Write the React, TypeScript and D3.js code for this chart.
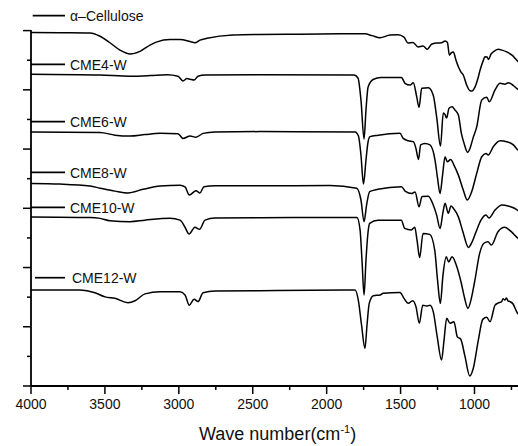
import React from "react";
import * as d3 from "d3";

// ---- data (wavenumber cm-1, offset transmittance a.u.) ----
const seriesNames = ["α–Cellulose", "CME4-W", "CME6-W", "CME8-W", "CME10-W", "CME12-W"];

const cellulose: [number, number][] = [
  [4000, 11.94], [3804, 11.93], [3601, 11.92], [3533, 11.81], [3466, 11.59], [3398, 11.34],
  [3330, 11.21], [3263, 11.30], [3195, 11.51], [3148, 11.62], [3060, 11.70], [2992, 11.70],
  [2924, 11.63], [2891, 11.59], [2857, 11.68], [2809, 11.74], [2634, 11.85], [2451, 11.87],
  [2180, 11.88], [1910, 11.89], [1741, 11.89], [1693, 11.83], [1639, 11.76], [1571, 11.85],
  [1517, 11.86], [1477, 11.78], [1450, 11.58], [1416, 11.60], [1382, 11.45], [1348, 11.48],
  [1318, 11.37], [1291, 11.54], [1254, 11.58], [1223, 11.59], [1199, 11.65], [1183, 11.60],
  [1170, 11.17], [1159, 11.24], [1143, 11.28], [1125, 11.00], [1109, 10.78], [1091, 10.60],
  [1076, 10.50], [1053, 10.16], [1030, 9.97], [1017, 9.96], [997, 10.09], [976, 10.40],
  [962, 10.67], [942, 10.97], [929, 11.12], [915, 11.11], [905, 11.02], [888, 11.21],
  [873, 11.28], [839, 11.37], [814, 11.34], [782, 11.28], [746, 11.17], [714, 11.00], [692, 10.90],
];

const cme4: [number, number][] = [
  [4000, 10.53], [3533, 10.50], [3330, 10.46], [3195, 10.48], [3080, 10.51], [3006, 10.46],
  [2972, 10.30], [2945, 10.38], [2924, 10.36], [2897, 10.33], [2870, 10.46], [2823, 10.50],
  [2451, 10.51], [1815, 10.50], [1788, 10.40], [1768, 9.66], [1747, 8.34], [1734, 9.32],
  [1720, 10.09], [1686, 10.35], [1632, 10.42], [1494, 10.42], [1470, 10.22], [1436, 10.16],
  [1414, 10.24], [1391, 9.77], [1375, 9.41], [1357, 10.05], [1312, 10.07], [1279, 9.82],
  [1256, 9.09], [1230, 8.10], [1211, 9.22], [1199, 9.16], [1189, 9.05], [1172, 9.38],
  [1152, 9.43], [1132, 9.32], [1109, 9.15], [1089, 8.54], [1071, 8.20], [1046, 7.89],
  [1030, 8.03], [1010, 8.37], [985, 8.75], [951, 9.66], [917, 9.75], [900, 9.60],
  [861, 10.00], [827, 10.22], [794, 10.19], [771, 10.24], [715, 10.05], [692, 9.96],
];

const cme6: [number, number][] = [
  [4000, 8.58], [3533, 8.56], [3432, 8.47], [3330, 8.44], [3229, 8.49], [3127, 8.53],
  [3006, 8.52], [2972, 8.36], [2924, 8.44], [2884, 8.40], [2836, 8.53], [2755, 8.58],
  [2451, 8.59], [1808, 8.58], [1785, 8.44], [1768, 7.80], [1751, 6.82], [1734, 7.63],
  [1720, 8.24], [1707, 8.42], [1651, 8.47], [1504, 8.53], [1482, 8.36], [1448, 8.28],
  [1414, 8.25], [1396, 8.02], [1379, 7.65], [1364, 8.14], [1335, 8.19], [1301, 8.14],
  [1267, 7.63], [1250, 7.02], [1233, 6.50], [1216, 7.12], [1199, 7.74], [1184, 7.57],
  [1161, 7.65], [1139, 7.46], [1109, 7.12], [1076, 6.62], [1049, 6.28], [1019, 6.56],
  [985, 7.18], [951, 7.74], [922, 7.85], [907, 7.80], [873, 8.08], [827, 8.28],
  [782, 8.25], [737, 8.14], [706, 7.97], [685, 7.90],
];

const cme8: [number, number][] = [
  [4000, 6.84], [3804, 6.82], [3601, 6.75], [3533, 6.68], [3432, 6.58], [3344, 6.52],
  [3242, 6.64], [3127, 6.75], [2992, 6.78], [2958, 6.72], [2929, 6.45], [2884, 6.59],
  [2857, 6.52], [2830, 6.73], [2755, 6.76], [2451, 6.76], [1977, 6.77], [1797, 6.68],
  [1768, 6.28], [1747, 5.55], [1730, 6.11], [1709, 6.56], [1653, 6.64], [1494, 6.73],
  [1467, 6.57], [1425, 6.50], [1402, 6.55], [1375, 6.05], [1355, 6.40], [1312, 6.41],
  [1279, 6.11], [1256, 5.77], [1233, 5.32], [1213, 5.87], [1199, 6.17], [1177, 5.83],
  [1159, 6.08], [1143, 6.00], [1109, 5.71], [1078, 5.20], [1041, 4.68], [1017, 4.86],
  [990, 5.20], [956, 5.60], [922, 5.77], [902, 5.67], [861, 5.94], [814, 6.11],
  [773, 6.08], [733, 6.01], [692, 5.87],
];

const cme10: [number, number][] = [
  [4000, 5.71], [3601, 5.69], [3533, 5.66], [3466, 5.58], [3330, 5.55], [3229, 5.60],
  [3060, 5.66], [2992, 5.60], [2958, 5.36], [2931, 5.13], [2891, 5.36], [2860, 5.29],
  [2823, 5.60], [2755, 5.67], [2451, 5.68], [1795, 5.69], [1774, 5.27], [1761, 4.25],
  [1747, 3.07], [1734, 4.25], [1720, 5.20], [1709, 5.49], [1653, 5.60], [1495, 5.60],
  [1472, 5.32], [1427, 5.27], [1404, 5.36], [1389, 4.93], [1371, 4.34], [1348, 5.15],
  [1303, 5.12], [1269, 4.59], [1250, 3.58], [1231, 2.79], [1213, 3.75], [1191, 4.36],
  [1175, 4.19], [1152, 4.36], [1123, 4.08], [1089, 3.47], [1067, 2.97], [1044, 2.62],
  [1024, 2.90], [999, 3.52], [965, 4.48], [936, 4.82], [909, 4.87], [886, 4.76],
  [841, 5.21], [796, 5.36], [751, 5.21], [706, 4.99], [685, 4.93],
];

const cme12: [number, number][] = [
  [4000, 3.24], [3669, 3.24], [3567, 3.15], [3499, 3.01], [3432, 2.96], [3344, 2.81],
  [3296, 2.88], [3229, 3.11], [3127, 3.18], [2992, 3.18], [2958, 3.07], [2929, 2.73],
  [2897, 2.93], [2870, 2.85], [2836, 3.15], [2755, 3.21], [2451, 3.22], [1808, 3.24],
  [1786, 2.90], [1764, 2.06], [1741, 1.27], [1727, 2.06], [1712, 2.79], [1684, 3.05],
  [1639, 3.07], [1617, 3.13], [1504, 3.16], [1477, 2.96], [1448, 2.79], [1418, 2.88],
  [1396, 2.68], [1373, 2.12], [1350, 2.73], [1323, 2.70], [1301, 2.73], [1279, 2.51],
  [1252, 1.66], [1223, 0.88], [1206, 1.55], [1188, 2.29], [1166, 2.12], [1139, 2.17],
  [1116, 1.66], [1093, 1.58], [1064, 0.99], [1032, 0.34], [1008, 0.60], [974, 1.55],
  [944, 2.25], [917, 2.32], [895, 2.17], [861, 2.73], [841, 2.80], [816, 2.85],
  [807, 2.95], [794, 2.90], [784, 2.97], [773, 2.87], [760, 2.85], [739, 2.77],
  [715, 2.51], [692, 2.36],
];

const allSeries = [cellulose, cme4, cme6, cme8, cme10, cme12];

const xMajorTicks = [4000, 3500, 3000, 2500, 2000, 1500, 1000];
const xMinorTicks = [3750, 3250, 2750, 2250, 1750, 1250, 750];
const yTicks = [0, 1, 2, 3, 4, 5, 6, 7, 8, 9, 10, 11, 12];

// ---- layout ----
const W = 518;
const H = 446;
const left = 31;
const bottom = 386;
const top = 30.6;
const legendY = [15.7, 64.3, 121.7, 172.3, 207.3, 277.7];
const legendX0 = [32.7, 31, 31, 31, 31, 35];

export default function App() {
  const x = d3.scaleLinear().domain([4000, 700]).range([left, left + 3300 * 0.14783]);
  const y = d3.scaleLinear().domain([0, 12]).range([bottom, top]);
  const line = d3
    .line<[number, number]>()
    .x((d) => x(d[0]))
    .y((d) => y(d[1]))
    .curve(d3.curveMonotoneX);

  const font = "'Liberation Sans', Arial, sans-serif";

  return (
    <svg
      width={W}
      height={H}
      style={{ position: "absolute", left: 0, top: 0, background: "#fff" }}
      fontFamily={font}
    >
      <defs>
        <clipPath id="plot">
          <rect x={left} y={0} width={W - left} height={bottom} />
        </clipPath>
      </defs>
      <g clipPath="url(#plot)">
        {allSeries.map((s, i) => (
          <path key={i} d={line(s) || ""} fill="none" stroke="#000" strokeWidth={1.5} strokeLinejoin="round" />
        ))}
      </g>

      {/* legend */}
      {seriesNames.map((name, i) => (
        <g key={name}>
          <line x1={legendX0[i]} x2={65} y1={legendY[i]} y2={legendY[i]} stroke="#000" strokeWidth={1.7} />
          <text x={i === 5 ? 72 : 70} y={legendY[i] + 5.3} fontSize={14} fill="#111">
            {name}
          </text>
        </g>
      ))}

      {/* axes */}
      <line x1={left} x2={W} y1={bottom} y2={bottom} stroke="#000" strokeWidth={1.8} />
      <line x1={left} x2={left} y1={top - 0.5} y2={bottom} stroke="#000" strokeWidth={1.8} />
      {xMajorTicks.map((t) => (
        <g key={t}>
          <line x1={x(t)} x2={x(t)} y1={bottom} y2={bottom + 8} stroke="#000" strokeWidth={1.5} />
          <text x={x(t)} y={bottom + 23} fontSize={14} textAnchor="middle" fill="#111">
            {t}
          </text>
        </g>
      ))}
      {xMinorTicks.map((t) => (
        <line key={t} x1={x(t)} x2={x(t)} y1={bottom} y2={bottom + 4} stroke="#000" strokeWidth={1.5} />
      ))}
      {yTicks.map((t) => (
        <line
          key={t}
          x1={left - (t % 2 === 0 ? 8 : 4)}
          x2={left}
          y1={y(t)}
          y2={y(t)}
          stroke="#000"
          strokeWidth={1.5}
        />
      ))}
      <text x={199} y={440} fontSize={18} fill="#111">
        Wave number(cm
        <tspan dy={-7} fontSize={11}>-1</tspan>
        <tspan dy={7}>)</tspan>
      </text>
    </svg>
  );
}
